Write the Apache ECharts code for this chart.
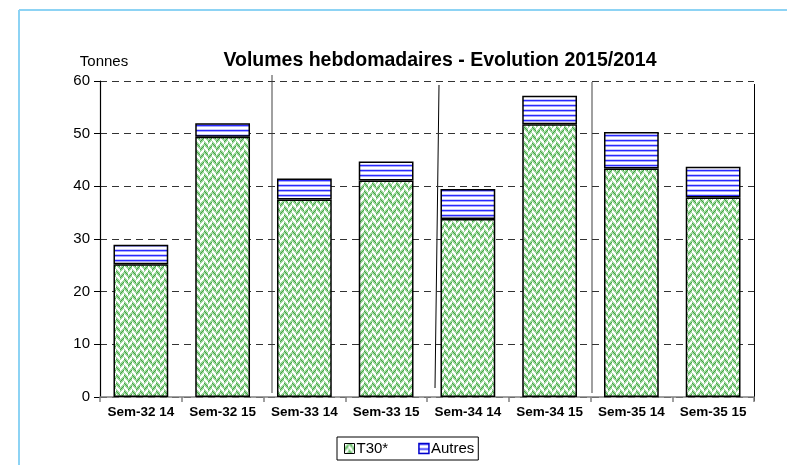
<!DOCTYPE html>
<html>
<head>
<meta charset="utf-8">
<script src="https://cdn.jsdelivr.net/npm/echarts@6/dist/echarts.min.js"></script>
<style>
html,body{margin:0;padding:0;background:#fff;}
#chart{width:787px;height:465px;}
</style>
</head>
<body>
<div id="chart"></div>
<script>
// ---- data ----
var categories = ['Sem-32 14','Sem-32 15','Sem-33 14','Sem-33 15','Sem-34 14','Sem-34 15','Sem-35 14','Sem-35 15'];
var t30Values = [25.2, 49.4, 37.5, 41.1, 33.8, 51.8, 43.4, 37.9];
var autresValues = [3.7, 2.6, 4.0, 3.6, 5.7, 5.4, 6.9, 5.8];
var seriesNames = ['T30*', 'Autres'];
var yTicks = [0, 10, 20, 30, 40, 50, 60];

// ---- patterns ----
function makeGreen() {
  var c = document.createElement('canvas');
  c.width = 8; c.height = 8;
  var ctx = c.getContext('2d');
  for (var y = 0; y < 8; y++) {
    for (var x = 0; x < 8; x++) {
      var v = x < 4 ? ((x + y) % 8) : ((x - y + 16) % 8);
      var col = '#9dd69d';
      if (v === 0 || v === 1 || v === 2) col = '#ffffff';
      else if (v === 5) col = '#3fa33f';
      ctx.fillStyle = col;
      ctx.fillRect(x, y, 1, 1);
    }
  }
  return c;
}
function makeBlue() {
  var c = document.createElement('canvas');
  c.width = 4; c.height = 5;
  var ctx = c.getContext('2d');
  var rows = ['#2a2aff', '#a8a8ff', '#ffffff', '#ffffff', '#c8c8ff'];
  for (var y = 0; y < rows.length; y++) {
    ctx.fillStyle = rows[y];
    ctx.fillRect(0, y, 4, 1);
  }
  return c;
}
var greenPattern = { image: makeGreen(), repeat: 'repeat' };
var bluePattern = { image: makeBlue(), repeat: 'repeat' };

var chart = echarts.init(document.getElementById('chart'), null, { renderer: 'canvas' });
var FONT = "'Liberation Sans', Arial, sans-serif";

var option = {
  animation: false,
  backgroundColor: '#ffffff',
  title: {
    text: 'Volumes hebdomadaires - Evolution 2015/2014',
    left: 435, top: 46, textAlign: 'center',
    textStyle: { fontFamily: FONT, fontSize: 19.5, fontWeight: 'bold', color: '#000' }
  },
  legend: {
    data: [
      { name: seriesNames[0], itemStyle: { color: greenPattern, borderColor: '#000', borderWidth: 1 } },
      { name: seriesNames[1], itemStyle: { color: bluePattern, borderColor: '#0000cc', borderWidth: 1.5 } }
    ],
    left: 337, top: 437,
    borderColor: '#000', borderWidth: 1,
    padding: [4, 4, 4, 7],
    itemGap: 30,
    itemWidth: 10, itemHeight: 10, icon: 'rect',
    textStyle: { fontFamily: FONT, fontSize: 15, color: '#000', padding: [0, 0, 0, -3] }
  },
  grid: { left: 100, right: 33, top: 81, bottom: 68, containLabel: false },
  xAxis: {
    type: 'category',
    data: categories,
    boundaryGap: true,
    axisLine: { lineStyle: { color: '#808080', width: 1.5 } },
    axisTick: { show: true, length: 5, lineStyle: { color: '#808080', width: 1.5 } },
    axisLabel: { interval: 0, hideOverlap: false, fontFamily: FONT, fontSize: 13.5, fontWeight: 'bold', color: '#000', margin: 8 }
  },
  yAxis: {
    type: 'value',
    min: yTicks[0], max: yTicks[yTicks.length - 1], interval: 10,
    name: 'Tonnes',
    nameLocation: 'end',
    nameGap: 12,
    nameTextStyle: { fontFamily: FONT, fontSize: 15, color: '#000', padding: [0, 0, 0, 8] },
    axisLine: { show: true, lineStyle: { color: '#000', width: 1.2 } },
    axisTick: { show: true, length: 6, lineStyle: { color: '#000' } },
    axisLabel: { fontFamily: FONT, fontSize: 15, color: '#000', margin: 10 },
    splitLine: { show: true, lineStyle: { color: '#333', type: [7, 5], width: 1 } }
  },
  series: [
    {
      name: seriesNames[0], type: 'bar', stack: 'total',
      data: t30Values, barWidth: '67%',
      itemStyle: { color: greenPattern, borderColor: '#000', borderWidth: 1.5 }
    },
    {
      name: seriesNames[1], type: 'bar', stack: 'total',
      data: autresValues, barWidth: '67%',
      itemStyle: { color: bluePattern, borderColor: '#000', borderWidth: 1.5 }
    }
  ],
  graphic: [
    { type: 'line', shape: { x1: 19, y1: 10, x2: 800, y2: 10 }, style: { stroke: '#8dd3f4', lineWidth: 2 } },
    { type: 'line', shape: { x1: 19, y1: 10, x2: 19, y2: 480 }, style: { stroke: '#8dd3f4', lineWidth: 2 } },
    { type: 'line', shape: { x1: 272, y1: 75, x2: 272, y2: 393 }, style: { stroke: '#808080', lineWidth: 1.5 } },
    { type: 'line', shape: { x1: 439, y1: 85, x2: 435, y2: 388 }, style: { stroke: '#000', lineWidth: 1 } },
    { type: 'line', shape: { x1: 592, y1: 82, x2: 592, y2: 393 }, style: { stroke: '#808080', lineWidth: 1.5 } },
    { type: 'line', shape: { x1: 754.5, y1: 84, x2: 754.5, y2: 401 }, style: { stroke: '#000', lineWidth: 1 } }
  ]
};
chart.setOption(option);
</script>
</body>
</html>
